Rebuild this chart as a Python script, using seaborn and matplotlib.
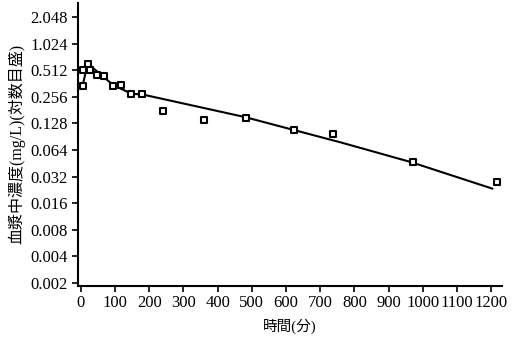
import matplotlib
matplotlib.use("Agg")
import matplotlib.pyplot as plt
import seaborn as sns
import pandas as pd

# Measured plasma concentrations (time in minutes, concentration in mg/L)
obs_time = [5, 7, 20, 27, 48, 68, 94, 118, 148, 179, 240, 361, 484, 624, 737, 971, 1217]
obs_conc = [0.339, 0.52, 0.60, 0.52, 0.452, 0.444, 0.339, 0.345, 0.277, 0.275,
            0.175, 0.141, 0.149, 0.109, 0.0974, 0.0473, 0.0275]

# Model curve
fit_time = [5, 20, 94, 148, 179, 480, 760, 965, 1204]
fit_conc = [0.339, 0.61, 0.35, 0.277, 0.273, 0.151, 0.078, 0.0467, 0.0233]

y_ticks = [0.002, 0.004, 0.008, 0.016, 0.032, 0.064, 0.128, 0.256, 0.512, 1.024, 2.048]
y_tick_labels = ["0.002", "0.004", "0.008", "0.016", "0.032", "0.064",
                 "0.128", "0.256", "0.512", "1.024", "2.048"]
x_ticks = list(range(0, 1201, 100))

obs = pd.DataFrame({"time": obs_time, "conc": obs_conc})
fit = pd.DataFrame({"time": fit_time, "conc": fit_conc})

sns.set_theme(style="ticks")
plt.rcParams["font.family"] = ["Liberation Serif", "Noto Sans CJK JP"]

fig = plt.figure(figsize=(5.12, 3.37), dpi=100)
ax = fig.add_axes([0.152, 0.152, 0.828, 0.839])

sns.lineplot(data=fit, x="time", y="conc", ax=ax, color="black", linewidth=1.5,
             sort=False, estimator=None)
sns.scatterplot(data=obs, x="time", y="conc", ax=ax, marker="s", s=20,
                facecolor="white", edgecolor="black", linewidth=1.5, zorder=3)

ax.set_yscale("log", base=2)
ax.set_ylim(0.00185, 2.96)
ax.set_xlim(-8.8, 1231)
ax.set_yticks(y_ticks)
ax.set_yticklabels(y_tick_labels)
ax.minorticks_off()
ax.set_xticks(x_ticks)

for s in ["top", "right"]:
    ax.spines[s].set_visible(False)
for s in ["left", "bottom"]:
    ax.spines[s].set_color("black")
    ax.spines[s].set_linewidth(1.5)
ax.tick_params(axis="both", direction="out", length=4, width=1.2, colors="black",
               labelsize=12, pad=3)

ax.set_xlabel("時間(分)", fontsize=10.5, color="black", labelpad=5)
ax.set_ylabel("血漿中濃度(mg/L)(対数目盛)", fontsize=11.5, color="black", labelpad=4)

fig.savefig("out.png", dpi=100, facecolor="white")
